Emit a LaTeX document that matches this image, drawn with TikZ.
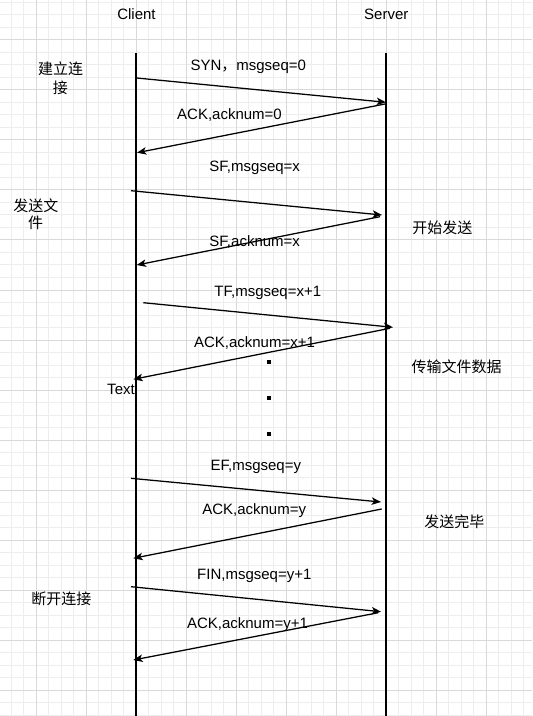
\documentclass[tikz,border=0pt]{standalone}
\usepackage{fontspec}
\setmainfont{Liberation Sans}
\newfontfamily\cjk{Noto Sans CJK SC}
\usetikzlibrary{arrows.meta}
\begin{document}
\begin{tikzpicture}[x=0.75pt,y=-0.75pt,
  lbl/.style={font=\fontsize{11.25pt}{13.5pt}\selectfont, inner sep=0pt, anchor=base},
  zh/.style={font=\fontsize{11.25pt}{13.5pt}\selectfont\cjk, inner sep=0pt, anchor=base},
  msg/.style={draw=black, line width=0.95pt, -{Stealth[length=7pt,width=5.6pt,inset=1.8pt]}},
  life/.style={draw=black, line width=0.95pt},
  minorgrid/.style={draw=black!7, line width=0.75pt},
  majorgrid/.style={draw=black!15, line width=0.75pt},
  dotmark/.style={fill=black, draw=none}]
\useasboundingbox (0,0) rectangle (532,716);
\fill[white] (0,0) rectangle (532,716);
% grid
\foreach \i in {0,...,43} \draw[minorgrid] ({-1.5+12.5*\i},0) -- ({-1.5+12.5*\i},716);
\foreach \i in {0,...,57} \draw[minorgrid] (0,{2.5+12.5*\i}) -- (532,{2.5+12.5*\i});
\foreach \i in {0,...,10} \draw[majorgrid] ({36+50*\i},0) -- ({36+50*\i},716);
\foreach \i in {0,...,14} \draw[majorgrid] (0,{40+50*\i}) -- (532,{40+50*\i});

% headers and lifelines
\node[lbl] (client) at (136.5,19.5) {Client};
\node[lbl] (server) at (386.3,19.5) {Server};
\coordinate (cltop) at (136,53);
\coordinate (clbot) at (136,716);
\coordinate (svtop) at (386,53);
\coordinate (svbot) at (386,716);
\draw[life] (cltop) -- (clbot);
\draw[life] (svtop) -- (svbot);

% left notes
\node[zh] (jl1) at (60.5,74.5) {建立连};
\node[zh] (jl2) at (60.3,93.3) {接};
\node[zh] (fs1) at (35.8,211.5) {发送文};
\node[zh] (fs2) at (35.7,229) {件};
\node[zh] (dk) at (61.3,604.8) {断开连接};
% right notes
\node[zh] (ks) at (442.3,233.2) {开始发送};
\node[zh] (cs) at (456.7,372.2) {传输文件数据};
\node[zh] (wb) at (454.3,527.2) {发送完毕};

% message labels
\node[lbl] (m1) at (248.3,70.8) {SYN{\cjk ，}msgseq=0};
\node[lbl] (m2) at (229.5,119.8) {ACK,acknum=0};
\node[lbl] (m3) at (254.7,171.2) {SF,msgseq=x};
\node[lbl] (m4) at (254.7,246.2) {SF,acknum=x};
\node[lbl] (m5) at (267.8,296.2) {TF,msgseq=x+1};
\node[lbl] (m6) at (254.5,347.2) {ACK,acknum=x+1};
\node[lbl] (tx) at (121,394.8) {Text};
\node[lbl] (m7) at (255.8,470.5) {EF,msgseq=y};
\node[lbl] (m8) at (254.2,514.8) {ACK,acknum=y};
\node[lbl] (m9) at (254.3,579.8) {FIN,msgseq=y+1};
\node[lbl] (m10) at (247.5,628.8) {ACK,acknum=y+1};

% arrow endpoints
\coordinate (a1s) at (136.7,78);   \coordinate (a1e) at (386,102.3);
\coordinate (a2s) at (385,104);    \coordinate (a2e) at (137,152.7);
\coordinate (a3s) at (131,190.7);  \coordinate (a3e) at (382,215);
\coordinate (a4s) at (380,216.7);  \coordinate (a4e) at (136.7,265);
\coordinate (a5s) at (143.3,302.7);\coordinate (a5e) at (393,327.3);
\coordinate (a6s) at (390,328.3);  \coordinate (a6e) at (133.3,379.3);
\coordinate (a7s) at (131,478.3);  \coordinate (a7e) at (381,502);
\coordinate (a8s) at (381.7,509);  \coordinate (a8e) at (133.3,558.3);
\coordinate (a9s) at (131,586.7);  \coordinate (a9e) at (381,611.7);
\coordinate (a10s) at (378.3,612.7);\coordinate (a10e) at (133.3,660);
\foreach \k in {1,...,10} \draw[msg] (a\k s) -- (a\k e);

% ellipsis dots
\foreach \y in {361.7,397.7,434} \fill[dotmark] (267.3,\y-2) rectangle (271.3,\y+2);
\end{tikzpicture}
\end{document}
